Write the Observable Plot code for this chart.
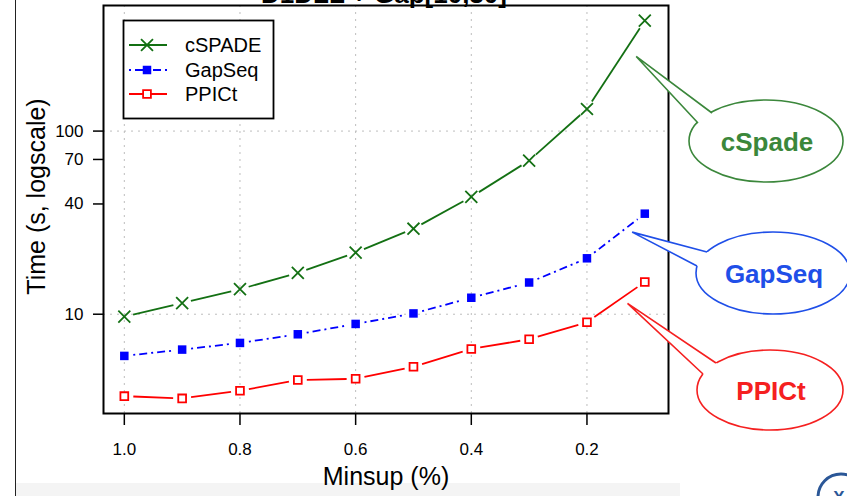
<!DOCTYPE html>
<html>
<head>
<meta charset="utf-8">
<script src="https://cdn.jsdelivr.net/npm/d3@7"></script>
<script src="https://cdn.jsdelivr.net/npm/@observablehq/plot@0.6"></script>
<style>
  body { margin: 0; background: #fff; }
  #chart svg { display: block; }
</style>
</head>
<body>
<div id="chart"></div>
<script>
// ---- data ----
const minsup = [1.0, 0.9, 0.8, 0.7, 0.6, 0.5, 0.4, 0.3, 0.2, 0.1];
const cspade = [9.7, 11.5, 13.7, 16.8, 21.7, 29.3, 43.7, 69, 132, 401];
const gapseq = [5.92, 6.41, 6.97, 7.77, 8.85, 10.1, 12.3, 14.9, 20.2, 35.4];
const ppict  = [3.57, 3.47, 3.82, 4.37, 4.44, 5.17, 6.46, 7.30, 9.04, 15.0];
const seriesNames = ["cSPADE", "GapSeq", "PPICt"];
const seriesValues = [cspade, gapseq, ppict];
const xTicks = [1.0, 0.8, 0.6, 0.4, 0.2];
const yTicks = [10, 40, 70, 100];
const yTickLabels = ["10", "40", "70", "100"];
const yGridTicks = [10, 100];
const calloutLabels = ["cSpade", "GapSeq", "PPICt"];
const calloutTipX = [0.114, 0.121, 0.129];
const calloutTipY = [254, 27.9, 11.4];
const titleText = "D1DLL + Gap[10,30]";
const xLabel = "Minsup (%)";
const yLabel = "Time (s, logscale)";

// ---- styles ----
const FONT = "'Liberation Sans', Arial, Helvetica, sans-serif";
const colors = ["#137013", "#0000ff", "#ff0000"];
const calloutColors = ["#3b873b", "#1f4fe8", "#f52020"];
const dashes = [null, "2,4,8,4", null];
const symbols = [d3.symbolTimes, d3.symbolSquare, d3.symbolSquare];
const symbolR = [5.5, 4.8, 4.4];
const symbolFill = [null, "#0000ff", "white"];

// ---- derived tables ----
const rows = [];
const segs = [];
seriesNames.forEach((s, k) => {
  minsup.forEach((m, i) => rows.push({series: s, k, minsup: m, time: seriesValues[k][i]}));
  for (let i = 0; i < minsup.length - 1; i++) {
    segs.push({series: s, k, x1: minsup[i], y1: seriesValues[k][i], x2: minsup[i + 1], y2: seriesValues[k][i + 1]});
  }
});
const yTickRows = yTicks.map((v, i) => ({v, label: yTickLabels[i]}));

// ---- decorations (page chrome) ----
const chrome = () => {
  const g = d3.create("svg:g");
  g.append("rect").attr("x", 16).attr("y", 483).attr("width", 664).attr("height", 13).attr("fill", "#f4f4f4");
  g.append("line").attr("x1", 15.5).attr("x2", 15.5).attr("y1", 0).attr("y2", 496)
    .attr("stroke", "#222").attr("stroke-width", 1);
  g.append("circle").attr("cx", 841).attr("cy", 497).attr("r", 23)
    .attr("fill", "white").attr("stroke", "#2b5797").attr("stroke-width", 3);
  g.append("text").attr("x", 839).attr("y", 503).attr("text-anchor", "middle")
    .attr("font-family", FONT).attr("font-size", 17).attr("font-weight", "bold")
    .attr("fill", "#2b5797").text("X");
  g.append("text").attr("x", 384).attr("y", 3).attr("text-anchor", "middle")
    .attr("font-family", FONT).attr("font-size", 26).attr("font-weight", "bold")
    .attr("fill", "black").text(titleText);
  return g.node();
};

// ---- legend ----
const legend = () => {
  const g = d3.create("svg:g");
  g.append("rect").attr("x", 123.5).attr("y", 20.5).attr("width", 150).attr("height", 98)
    .attr("fill", "white").attr("stroke", "black").attr("stroke-width", 1.8);
  const ys = [45, 70, 94];
  seriesNames.forEach((name, k) => {
    const y = ys[k];
    const ln = g.append("line").attr("x1", 129).attr("x2", 167).attr("y1", y).attr("y2", y)
      .attr("stroke", colors[k]).attr("stroke-width", 1.8);
    if (dashes[k]) ln.attr("stroke-dasharray", dashes[k]);
    const size = Math.PI * symbolR[k] * symbolR[k];
    g.append("path").attr("transform", `translate(147,${y})`)
      .attr("d", d3.symbol(symbols[k], size)())
      .attr("fill", symbolFill[k] || "none")
      .attr("stroke", colors[k]).attr("stroke-width", k === 1 ? 0 : 1.8);
    g.append("text").attr("x", 185).attr("y", y).attr("dy", "0.36em")
      .attr("text-anchor", "start")
      .attr("font-family", FONT).attr("font-size", 20).attr("fill", "black").text(name);
  });
  return g.node();
};

// ---- callouts ----
const bubbles = [
  {cx: 766, cy: 141, rx: 77, ry: 41, b1: [712, 113], b2: [698, 123]},
  {cx: 773, cy: 273, rx: 77, ry: 41, b1: [707, 252], b2: [697, 266]},
  {cx: 770, cy: 390, rx: 73, ry: 40, b1: [716, 363], b2: [703, 374]}
];
const callouts = (index, scales) => {
  const g = d3.create("svg:g");
  bubbles.forEach((b, k) => {
    const tx = scales.x(calloutTipX[k]);
    const ty = scales.y(calloutTipY[k]);
    const c = calloutColors[k];
    g.append("ellipse").attr("cx", b.cx).attr("cy", b.cy).attr("rx", b.rx).attr("ry", b.ry)
      .attr("fill", "white").attr("stroke", c).attr("stroke-width", 1.6);
    const ext = (p) => [p[0] + (p[0] - tx) * 0.06, p[1] + (p[1] - ty) * 0.06];
    const e1 = ext(b.b1), e2 = ext(b.b2);
    g.append("path").attr("d", `M${tx},${ty}L${e1[0]},${e1[1]}L${e2[0]},${e2[1]}Z`)
      .attr("fill", "white").attr("stroke", "none");
    g.append("path").attr("d", `M${b.b1[0]},${b.b1[1]}L${tx},${ty}L${b.b2[0]},${b.b2[1]}`)
      .attr("fill", "none").attr("stroke", c).attr("stroke-width", 1.6);
    g.append("text").attr("x", b.cx + 1).attr("y", b.cy + 1).attr("dy", "0.36em")
      .attr("text-anchor", "middle").attr("font-family", FONT).attr("font-size", 26)
      .attr("font-weight", "bold").attr("fill", c).text(calloutLabels[k]);
  });
  return g.node();
};

const seriesMarks = [];
seriesNames.forEach((s, k) => {
  seriesMarks.push(Plot.arrow(segs.filter(d => d.k === k), {
    x1: "x1", y1: "y1", x2: "x2", y2: "y2",
    headLength: 0, inset: 9, stroke: colors[k], strokeWidth: 1.8,
    strokeLinecap: "butt", strokeDasharray: dashes[k] || undefined
  }));
  seriesMarks.push(Plot.dot(rows.filter(d => d.k === k), {
    x: "minsup", y: "time", symbol: () => symbols[k], r: symbolR[k],
    stroke: k === 1 ? "none" : colors[k], fill: symbolFill[k] || "none", strokeWidth: 1.8
  }));
});

const chart = Plot.plot({
  width: 847,
  height: 496,
  marginLeft: 103,
  marginRight: 179,
  marginTop: 5,
  marginBottom: 83,
  style: {fontFamily: FONT, fontSize: "17px", color: "black", background: "white", overflow: "hidden"},
  x: {domain: [1.036, 0.059]},
  y: {type: "log", domain: [2.87, 485]},
  marks: [
    chrome,
    Plot.gridX(xTicks, {stroke: "#bdbdbd", strokeOpacity: 1, strokeDasharray: "2,5", strokeWidth: 1}),
    Plot.gridY(yGridTicks, {stroke: "#bdbdbd", strokeOpacity: 1, strokeDasharray: "2,5", strokeWidth: 1}),
    Plot.frame({stroke: "black", strokeWidth: 2}),
    ...seriesMarks,
    legend,
    Plot.axisX({ticks: xTicks, tickSize: 12, tickPadding: 17, tickFormat: d3.format(".1f"), fontSize: 17, strokeWidth: 1.5, label: null}),
    Plot.axisY({ticks: yTicks, tickSize: 10, tickFormat: () => "", strokeWidth: 1.5, label: null}),
    Plot.text(yTickRows, {y: "v", text: "label", frameAnchor: "left", textAnchor: "end", dx: -20, fontSize: 17}),
    Plot.text([xLabel], {frameAnchor: "bottom", lineAnchor: "middle", textAnchor: "middle", dy: 63, fontSize: 25, text: d => d}),
    Plot.text([yLabel], {frameAnchor: "left", textAnchor: "middle", lineAnchor: "middle", dx: -67, dy: -13, rotate: -90, fontSize: 25, text: d => d}),
    callouts
  ]
});
document.getElementById("chart").appendChild(chart);
</script>
</body>
</html>
